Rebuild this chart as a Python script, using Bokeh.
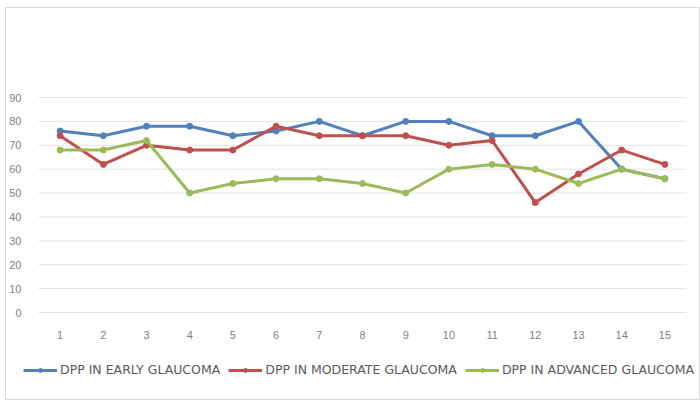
from bokeh.plotting import figure
from bokeh.models import Legend, LegendItem, FixedTicker
from bokeh.embed import file_html
from bokeh.resources import INLINE

# Eye index (1..15) and DPP readings per glaucoma stage
eyes = list(range(1, 16))
early = [76, 74, 78, 78, 74, 76, 80, 74, 80, 80, 74, 74, 80, 60, 56]
moderate = [74, 62, 70, 68, 68, 78, 74, 74, 74, 70, 72, 46, 58, 68, 62]
advanced = [68, 68, 72, 50, 54, 56, 56, 54, 50, 60, 62, 60, 54, 60, 56]
y_ticks = list(range(0, 91, 10))

series = [
    ("DPP IN EARLY GLAUCOMA", early, "#4F81BD"),
    ("DPP IN MODERATE GLAUCOMA", moderate, "#C0504D"),
    ("DPP IN ADVANCED GLAUCOMA", advanced, "#9BBB59"),
]

# Layout: the frame is the whole chart area; the plot area inside it
# spans categories 0.5..15.5 and values 0..90.
W, H = 700, 400
frame_left, frame_top = 5, 7
plot_left_px, plot_right_px = 38, 686      # plot area, canvas pixels
plot_top_px, plot_bottom_px = 97, 312
xs = (plot_right_px - plot_left_px) / 15.0
ys = (plot_bottom_px - plot_top_px) / 90.0
x_lo = 0.5 - (plot_left_px - frame_left) / xs
x_hi = 15.5 + (W - plot_right_px) / xs
y_hi = 90 + (plot_top_px - frame_top) / ys
y_lo = 0 - (H - plot_bottom_px) / ys

p = figure(width=W, height=H, output_backend="svg", toolbar_location=None,
           x_range=(x_lo, x_hi), y_range=(y_lo, y_hi),
           min_border_left=frame_left, min_border_right=0,
           min_border_top=frame_top, min_border_bottom=0)

p.outline_line_color = "#d9d9d9"
p.outline_line_width = 1
p.background_fill_color = "white"
p.border_fill_color = "white"
p.xgrid.grid_line_color = None
p.ygrid.grid_line_color = None

# horizontal gridlines across the plot area only
p.segment(x0=[0.5] * len(y_ticks), x1=[15.5] * len(y_ticks), y0=y_ticks, y1=y_ticks,
          line_color="#e3e3e3", line_width=1)

# axes: labels only, pinned inside the frame
for ax in (p.xaxis[0], p.yaxis[0]):
    ax.axis_line_color = None
    ax.major_tick_line_color = None
    ax.minor_tick_line_color = None
    ax.major_label_text_color = "#7f7f7f"
    ax.major_label_text_font = "Liberation Sans"
    ax.major_label_text_font_size = "11px"
p.xaxis.ticker = FixedTicker(ticks=eyes)
p.yaxis.ticker = FixedTicker(ticks=y_ticks)
p.xaxis.fixed_location = 0
p.yaxis.fixed_location = 0.5
p.xaxis.major_label_standoff = 12
p.yaxis.major_label_standoff = 11

items = []
for name, vals, color in series:
    ln = p.line(eyes, vals, line_color=color, line_width=3)
    mk = p.scatter(eyes, vals, size=6, marker="circle", fill_color=color, line_color=color)
    items.append(LegendItem(label=name, renderers=[ln, mk]))

legend = Legend(items=items, orientation="horizontal", location=(18, 23),
                label_text_font="DejaVu Sans", label_text_font_size="12.5px",
                label_text_color="#595959", glyph_width=34, glyph_height=10,
                spacing=8, padding=0, margin=0, border_line_color=None,
                background_fill_alpha=0, label_standoff=3)
p.add_layout(legend, "center")

open("out.html", "w").write(file_html(p, INLINE))
